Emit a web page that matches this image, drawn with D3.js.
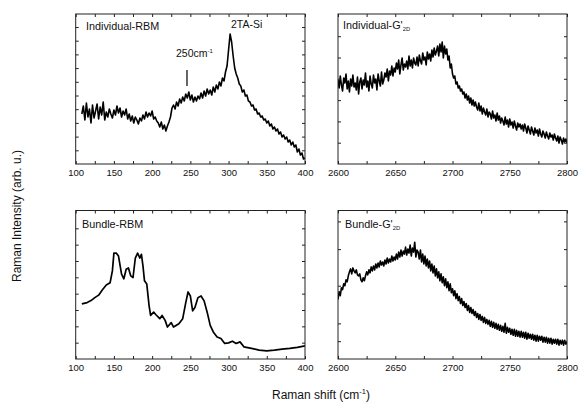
<!DOCTYPE html>
<html>
<head>
<meta charset="utf-8">
<script src="https://cdn.jsdelivr.net/npm/d3@7"></script>
<style>
  html, body { margin: 0; padding: 0; background: #fff; }
  svg { display: block; font-family: "Liberation Sans", Arial, Helvetica, sans-serif; }
</style>
</head>
<body>
<svg id="chart" width="579" height="402"></svg>
<script>
// ---------------- DATA ----------------
// Sampling grids of the spectra (Raman shift, cm^-1)
const rbmShiftStart = 108, rbmShiftStep = 2;      // Individual-RBM spectrum grid
const gShiftStart = 2600, gShiftStep = 1;         // G'2D spectra grid

// Intensities (arb. u.)
const indivRBMIntensity = [
  50,58,44,61,47,55,41,59,46,53,
  60,45,57,49,62,44,52,47,55,50,
  46,54,49,58,51,56,47,53,49,55,
  45,50,43,48,41,47,44,40,46,43,
  49,45,52,47,51,48,53,45,47,43,
  41,37,42,35,39,33,38,42,47,56,
  59,55,62,58,65,61,67,63,70,66,
  72,64,69,62,67,63,68,65,71,66,
  73,68,75,70,74,69,77,72,79,75,
  82,78,86,83,92,98,114,130,122,108,
  96,90,86,80,78,72,74,68,69,63,
  62,58,59,54,55,50,51,47,48,44,
  45,41,43,38,40,35,37,33,35,30,
  32,27,29,25,27,22,24,19,22,17,
  19,12,15,9,11,5,6
];

const indivG2DIntensity = [
  84,76,88,79,73,86,81,90,75,83,
  72,85,78,89,77,81,74,87,70,82,
  86,75,84,79,91,77,83,73,88,80,
  76,89,81,85,74,90,83,78,92,80,
  84,91,87,95,83,93,89,98,88,96,
  92,101,95,104,90,99,106,94,100,97,
  103,95,108,98,104,96,106,101,99,107,
  98,109,103,100,111,104,107,99,112,105,
  110,103,114,107,116,109,113,118,108,120,
  112,122,106,118,110,115,104,108,96,100,
  90,86,88,80,82,76,78,73,75,70,
  72,66,70,64,68,61,66,59,64,58,
  62,57,54,61,53,58,50,56,52,49,
  55,47,52,50,45,53,46,49,43,51,
  44,48,41,46,43,39,47,40,44,37,
  45,39,42,36,43,38,34,41,37,40,
  35,39,33,40,36,31,38,34,30,37,
  33,29,36,31,34,28,35,30,27,33,
  30,26,32,28,25,31,27,29,24,30,
  26,23,28,21,27,24,20,26,22,25,
  21
];

const bundleRBM = [[108,55.7],[115,57],[120,59],[125,62],[130,64.5],[135,70],[140,74.7],[145,77],[148,89],[150,107],[153,107],[156,104],[160,85.7],[163,81],[166,90.7],[169,92],[172,84],[175,82.3],[178,102],[181,107],[184,102],[186,105.7],[188,94],[190,79],[193,75.7],[196,54],[198,44],[202,47.3],[205,44.7],[210,40.7],[213,44],[217,39],[220,32.3],[225,36.7],[228,32.3],[235,35.7],[240,40.7],[244,57],[247,67.7],[250,63.7],[253,48.7],[256,52],[260,62],[264,63.7],[268,58.7],[272,47.3],[276,34],[280,27.3],[285,22.3],[290,20.7],[295,15.7],[300,16.3],[305,18],[310,15.7],[315,17.3],[320,12.3],[330,10.7],[340,9],[350,8.3],[360,9],[370,10],[380,10.7],[390,11.7],[400,13.3]];

const bundleG2DIntensity = [
  60,68,64,72,70,76,74,80,78,84,
  88,91,86,92,89,87,90,85,84,86,
  80,78,82,79,84,88,85,90,87,93,
  89,94,90,96,92,97,93,99,95,98,
  94,100,96,102,97,101,98,104,99,103,
  100,106,101,108,103,110,104,109,106,113,
  105,111,107,115,104,112,108,118,103,110,
  108,101,110,98,106,96,104,94,101,92,
  99,89,96,87,94,84,91,82,88,79,
  86,77,83,74,81,72,78,69,76,67,
  71,64,69,61,66,59,63,56,61,54,
  58,52,56,49,54,47,52,46,50,44,
  48,42,46,40,45,39,43,37,42,36,
  40,35,39,33,38,32,37,31,36,30,
  35,29,34,28,33,27,36,26,32,27,
  31,25,30,24,30,23,29,23,28,22,
  28,22,27,21,27,20,26,21,25,20,
  25,19,24,18,24,18,23,19,23,17,
  22,17,22,16,21,16,21,15,20,16,
  20,15,20,14,19,15,19,14,19,15,
  17
];

const rbmTicks = [100,125,150,175,200,225,250,275,300,325,350,375,400];
const rbmTickLabels = [100,150,200,250,300,350,400];
const gTicks = [2600,2625,2650,2675,2700,2725,2750,2775,2800];
const gTickLabels = [2600,2650,2700,2750,2800];
const yTicksTL = [13.7,27.4,41.1,54.8,68.5,82.2,95.9,109.6,123.3,137];
const yTicksTR = [21.3,42.6,63.9,85.2,106.5,127.8];
const yTicksBL = [16.5,33,49.5,66,82.5,99,115.5,132];
const yTicksBR = [18,36,74,111,139];

const annotPeak = 245.6;   // 250cm-1 marker position

// pair the intensities with their sampling grid
const onGrid = (vals, start, step) => vals.map((v, i) => [start + i * step, v]);
const indivRBM = onGrid(indivRBMIntensity, rbmShiftStart, rbmShiftStep);
const indivG2D = onGrid(indivG2DIntensity, gShiftStart, gShiftStep);
const bundleG2D = onGrid(bundleG2DIntensity, gShiftStart, gShiftStep);

// ---------------- DRAW ----------------
const svg = d3.select("#chart");
svg.append("rect").attr("width", 579).attr("height", 402).attr("fill", "#fff");

const panels = [
  { id: "tl", data: indivRBM, xd: [100,400], ticks: rbmTicks, labels: rbmTickLabels, yt: yTicksTL, sw: 1.6,
    box: [75.7, 305, 14, 164], title: ["Individual-RBM", null], titlePos: [86, 29.5] },
  { id: "tr", data: indivG2D, xd: [2600,2800], ticks: gTicks, labels: gTickLabels, yt: yTicksTR, sw: 1.6,
    box: [338, 567, 14, 164], title: ["Individual-G'", "2D"], titlePos: [343, 29] },
  { id: "bl", data: bundleRBM, xd: [100,400], ticks: rbmTicks, labels: rbmTickLabels, yt: yTicksBL, sw: 1.7,
    box: [75.7, 305, 210.5, 359], title: ["Bundle-RBM", null], titlePos: [82, 227.5] },
  { id: "br", data: bundleG2D, xd: [2600,2800], ticks: gTicks, labels: gTickLabels, yt: yTicksBR, sw: 1.6,
    box: [338, 567, 210.5, 359], title: ["Bundle-G'", "2D"], titlePos: [345, 227.5] }
];

const scales = {};

panels.forEach(p => {
  const [x0, x1, y0, y1] = p.box;
  const x = d3.scaleLinear().domain(p.xd).range([x0, x1]);
  const y = d3.scaleLinear().domain([0, 150]).range([y1, y0]);
  scales[p.id] = { x, y };
  const g = svg.append("g");

  svg.append("clipPath").attr("id", "clip-" + p.id)
    .append("rect").attr("x", x0).attr("y", y0).attr("width", x1 - x0).attr("height", y1 - y0);

  const line = d3.line().x(d => x(d[0])).y(d => y(d[1]));
  g.append("path").datum(p.data)
    .attr("clip-path", "url(#clip-" + p.id + ")")
    .attr("d", line)
    .attr("fill", "none")
    .attr("stroke", "#000")
    .attr("stroke-width", p.sw)
    .attr("stroke-linejoin", "round");

  const fmt = d => p.labels.includes(d) ? String(d) : "";
  const ax = [
    g.append("g").attr("transform", `translate(0,${y1})`)
      .call(d3.axisBottom(x).tickValues(p.ticks).tickSizeInner(-3).tickSizeOuter(0).tickPadding(5).tickFormat(fmt)),
    g.append("g").attr("transform", `translate(0,${y0})`)
      .call(d3.axisTop(x).tickValues(p.ticks).tickSizeInner(-3).tickSizeOuter(0).tickFormat("")),
    g.append("g").attr("transform", `translate(${x0},0)`)
      .call(d3.axisLeft(y).tickValues(p.yt).tickSizeInner(-3).tickSizeOuter(0).tickFormat("")),
    g.append("g").attr("transform", `translate(${x1},0)`)
      .call(d3.axisRight(y).tickValues(p.yt).tickSizeInner(-3).tickSizeOuter(0).tickFormat(""))
  ];
  ax.forEach(a => {
    a.select(".domain").remove();
    a.selectAll(".tick line").attr("stroke", "#222").attr("stroke-width", 1);
    a.selectAll(".tick text").attr("font-size", 9.5).attr("fill", "#111")
      .attr("font-family", "'Liberation Sans', Arial, sans-serif");
  });

  g.append("rect").attr("x", x0).attr("y", y0).attr("width", x1 - x0).attr("height", y1 - y0)
    .attr("fill", "none").attr("stroke", "#222").attr("stroke-width", 1);

  const t = g.append("text").attr("x", p.titlePos[0]).attr("y", p.titlePos[1])
    .attr("font-size", 10.8).attr("fill", "#111").text(p.title[0]);
  if (p.title[1]) {
    t.append("tspan").attr("font-size", 5.8).attr("dy", 2).text(p.title[1]);
  }
});

// annotations in Individual-RBM panel
const tl = scales.tl;
svg.append("line")
  .attr("x1", tl.x(annotPeak)).attr("x2", tl.x(annotPeak))
  .attr("y1", 70).attr("y2", 86)
  .attr("stroke", "#000").attr("stroke-width", 1.2);
const a1 = svg.append("text").attr("x", 176).attr("y", 56.5).attr("font-size", 10.5).attr("fill", "#111").text("250cm");
a1.append("tspan").attr("font-size", 6).attr("dy", -4).text("-1");
svg.append("text").attr("x", 231).attr("y", 27.5).attr("font-size", 10.5).attr("fill", "#111").text("2TA-Si");

// axis titles
const xt = svg.append("text").attr("x", 321).attr("y", 399).attr("text-anchor", "middle")
  .attr("font-size", 12).attr("fill", "#111").text("Raman shift (cm");
xt.append("tspan").attr("font-size", 7.5).attr("dy", -5).text("-1");
xt.append("tspan").attr("dy", 5).text(")");

svg.append("text")
  .attr("transform", "translate(20.7,216) rotate(-90)")
  .attr("text-anchor", "middle")
  .attr("font-size", 12).attr("fill", "#111")
  .text("Raman Intensity (arb. u.)");
</script>
</body>
</html>
